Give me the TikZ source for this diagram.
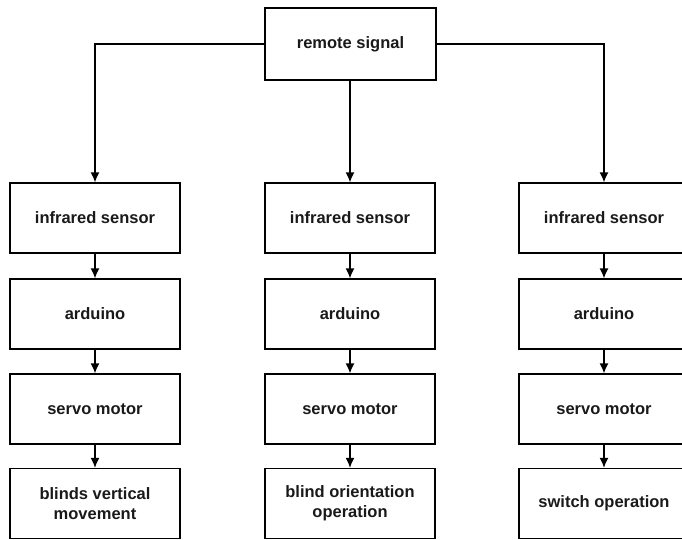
\documentclass[tikz,border=0pt]{standalone}
\usepackage{fontspec}
\setmainfont{Liberation Sans}
\usetikzlibrary{arrows.meta}
\begin{document}
\begin{tikzpicture}[x=1pt,y=-1pt,
  box/.style={draw=black, line width=1.3pt, rectangle, minimum width=170pt, minimum height=70pt,
    align=center, inner sep=0pt, font=\fontsize{16.5}{20}\selectfont\bfseries, text=black!90},
  arr/.style={draw=black, line width=1.3pt, -{Latex[length=10pt,width=9pt]}}]
\useasboundingbox (0,0) rectangle (682,539);
\clip (0,0) rectangle (682,539);
\node[box, minimum width=171pt, minimum height=72pt] (top) at (350.5,44) {remote signal};
\foreach \c/\x in {l/95, m/350, r/604} {
  \node[box] (\c1) at (\x,218) {infrared sensor};
  \node[box] (\c2) at (\x,314) {arduino};
  \node[box] (\c3) at (\x,409) {servo motor};
}
\node[box] (l4) at (95,503.5) {blinds vertical\\movement};
\node[box] (m4) at (350,503.5) {blind orientation\\operation};
\node[box] (r4) at (604,503.5) {switch operation};
\draw[arr] (top.west) -| (l1.north);
\draw[arr] (m1.north |- top.south) -- (m1.north);
\draw[arr] (top.east) -| (r1.north);
\foreach \c in {l,m,r} {
  \draw[arr] (\c1) -- (\c2);
  \draw[arr] (\c2) -- (\c3);
  \draw[arr] (\c3) -- (\c4);
}
\end{tikzpicture}
\end{document}
